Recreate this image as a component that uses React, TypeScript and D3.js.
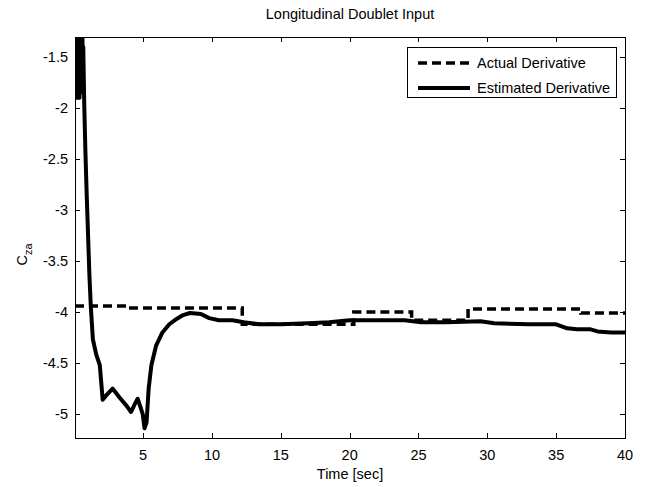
import React, { useEffect, useRef } from 'react';
import * as d3 from 'd3';

// actual derivative: piecewise constant steps (start time, value)
const actualT = [0.05, 3.8, 12.2, 20.3, 24.5, 28.6, 36.8, 40];
const actualV = [-3.94, -3.96, -4.12, -4.0, -4.08, -3.97, -4.01, -4.01];

// estimated derivative
const estT = [
  0.05, 0.08, 0.11, 0.14, 0.17, 0.2, 0.23, 0.26, 0.29, 0.32, 0.35, 0.38, 0.41, 0.44,
  0.47, 0.5, 0.53, 0.56, 0.59, 0.62, 0.65, 0.72,
  0.8, 0.9, 1.0, 1.1, 1.2, 1.35, 1.6, 1.85, 2.06, 2.3, 2.78, 3.3, 3.8, 4.12, 4.4,
  4.6, 4.8, 4.97, 5.1, 5.25, 5.4, 5.6, 5.94, 6.4, 6.9, 7.4, 7.9, 8.4, 9.2, 9.8,
  10.5, 11.5, 12.3, 13.4, 15, 17, 18.5, 20, 22, 24, 25.2, 27, 29.5, 30.5, 33, 35,
  35.8, 36.5, 37.5, 38, 39, 40,
];
const estV = [
  -1.35, -1.9, -1.3, -1.85, -1.32, -1.88, -1.3, -1.9, -1.35, -1.86, -1.3, -1.9, -1.32, -1.85,
  -1.3, -1.8, -1.35, -1.78, -1.3, -1.75, -1.4, -1.95,
  -2.4, -2.85, -3.25, -3.65, -3.95, -4.27, -4.42, -4.52, -4.86, -4.82, -4.75, -4.84, -4.92, -4.98, -4.9,
  -4.85, -4.93, -5.0, -5.14, -5.08, -4.75, -4.52, -4.33, -4.2, -4.12, -4.07, -4.03, -4.01, -4.02, -4.06,
  -4.08, -4.08, -4.1, -4.12, -4.12, -4.11, -4.1, -4.08, -4.08, -4.08, -4.1, -4.1, -4.09, -4.11, -4.12, -4.12,
  -4.16, -4.17, -4.17, -4.19, -4.2, -4.2,
];

const xTicks = [5, 10, 15, 20, 25, 30, 35, 40];
const yTicks = [-1.5, -2, -2.5, -3, -3.5, -4, -4.5, -5];
const legendLabels = ['Actual Derivative', 'Estimated Derivative'];

export default function App() {
  const ref = useRef<SVGSVGElement>(null);

  useEffect(() => {
    document.body.style.margin = '0';
    const svg = d3.select(ref.current);
    svg.selectAll('*').remove();

    const L = 75, R = 625, T = 37, B = 438;
    const font = 'Liberation Sans, Arial, sans-serif';
    const fs = 14.5;

    const x = d3.scaleLinear().domain([0.05, 40]).range([L, R]);
    const y = d3.scaleLinear().domain([-5.235, -1.304]).range([B, T]);

    svg.append('rect').attr('width', 650).attr('height', 487).attr('fill', '#fff');

    svg.append('defs').append('clipPath').attr('id', 'plotclip')
      .append('rect').attr('x', L).attr('y', T).attr('width', R - L).attr('height', B - T);

    const plot = svg.append('g').attr('clip-path', 'url(#plotclip)');

    const actual = actualT.map((t, i) => [t, actualV[i]] as [number, number]);
    const est = estT.map((t, i) => [t, estV[i]] as [number, number]);

    plot.append('path')
      .attr('d', d3.line().curve(d3.curveStepAfter).x(d => x(d[0])).y(d => y(d[1]))(actual))
      .attr('fill', 'none')
      .attr('stroke', '#000')
      .attr('stroke-width', 3.5)
      .attr('stroke-dasharray', '9,5');

    plot.append('path')
      .attr('d', d3.line().x(d => x(d[0])).y(d => y(d[1]))(est))
      .attr('fill', 'none')
      .attr('stroke', '#000')
      .attr('stroke-width', 4)
      .attr('stroke-linejoin', 'round');

    // axes box
    svg.append('rect')
      .attr('x', L + 0.5).attr('y', T + 0.5).attr('width', R - L).attr('height', B - T)
      .attr('fill', 'none').attr('stroke', '#000').attr('stroke-width', 1);

    const tk = 5;
    xTicks.forEach(t => {
      const px = Math.round(x(t)) + 0.5;
      svg.append('line').attr('x1', px).attr('x2', px).attr('y1', B).attr('y2', B - tk).attr('stroke', '#000');
      svg.append('line').attr('x1', px).attr('x2', px).attr('y1', T).attr('y2', T + tk).attr('stroke', '#000');
      svg.append('text').attr('x', x(t)).attr('y', B + 22)
        .attr('text-anchor', 'middle').attr('font-family', font).attr('font-size', fs).text(t);
    });
    yTicks.forEach(t => {
      const py = Math.round(y(t)) + 0.5;
      svg.append('line').attr('x1', L).attr('x2', L + tk).attr('y1', py).attr('y2', py).attr('stroke', '#000');
      svg.append('line').attr('x1', R).attr('x2', R - tk).attr('y1', py).attr('y2', py).attr('stroke', '#000');
      svg.append('text').attr('x', L - 7).attr('y', y(t) + 5)
        .attr('text-anchor', 'end').attr('font-family', font).attr('font-size', fs).text(t);
    });

    svg.append('text').attr('x', (L + R) / 2).attr('y', 19)
      .attr('text-anchor', 'middle').attr('font-family', font).attr('font-size', fs)
      .text('Longitudinal Doublet Input');

    svg.append('text').attr('x', (L + R) / 2).attr('y', 479)
      .attr('text-anchor', 'middle').attr('font-family', font).attr('font-size', fs)
      .text('Time [sec]');

    const yl = svg.append('text')
      .attr('transform', `translate(27,${(T + B) / 2 + 17}) rotate(-90)`)
      .attr('text-anchor', 'middle').attr('font-family', font).attr('font-size', fs);
    yl.append('tspan').text('C');
    yl.append('tspan').attr('font-size', 11).attr('dy', 5).text('za');

    // legend
    const lg = svg.append('g');
    lg.append('rect').attr('x', 407.5).attr('y', 47.5).attr('width', 209).attr('height', 50)
      .attr('fill', '#fff').attr('stroke', '#000');
    legendLabels.forEach((lab, i) => {
      const ly = 63 + i * 25;
      lg.append('line').attr('x1', 418).attr('x2', 470).attr('y1', ly).attr('y2', ly)
        .attr('stroke', '#000')
        .attr('stroke-width', i === 0 ? 3.5 : 4)
        .attr('stroke-dasharray', i === 0 ? '9,5' : null);
      lg.append('text').attr('x', 477).attr('y', ly + 5)
        .attr('font-family', font).attr('font-size', fs).text(lab);
    });
  }, []);

  return <svg ref={ref} width={650} height={487} style={{ display: 'block' }} />;
}
